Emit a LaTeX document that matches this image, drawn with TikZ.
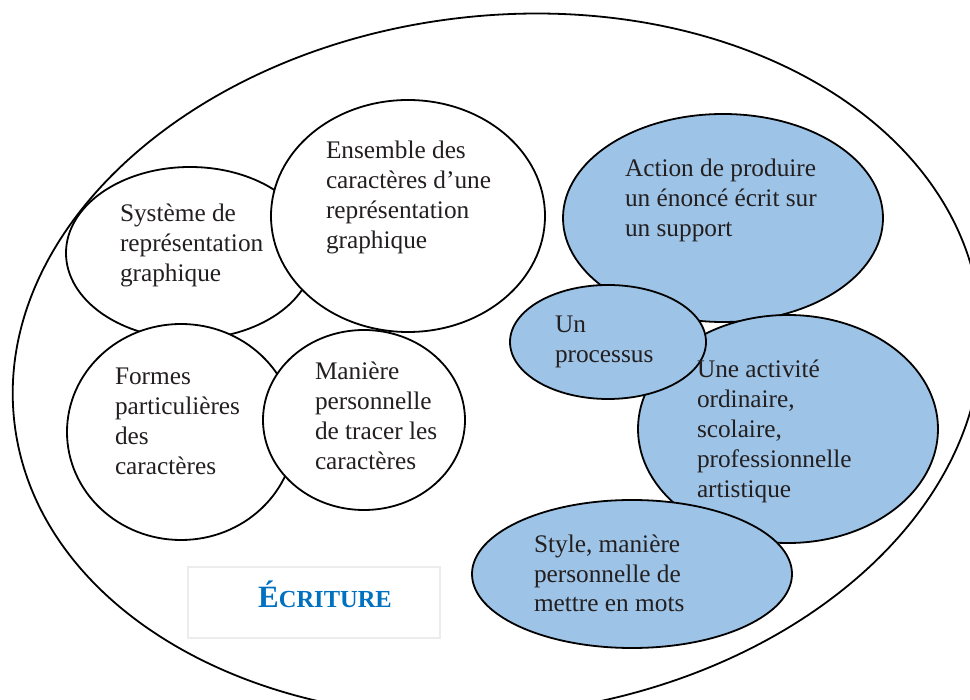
\documentclass[tikz,border=0pt]{standalone}
\usepackage{fontspec}
\setmainfont{Liberation Serif}
\usetikzlibrary{shapes.geometric}
\definecolor{fillblue}{RGB}{157,195,230}
\definecolor{titleblue}{RGB}{0,112,192}
\definecolor{boxgray}{RGB}{236,236,236}
\definecolor{txt}{RGB}{35,31,32}
\begin{document}
\begin{tikzpicture}[x=1pt,y=-1pt,
  blob/.style={ellipse, draw=black, line width=1.8pt, inner sep=0pt, outer sep=0pt},
  whiteblob/.style={blob, fill=white},
  blueblob/.style={blob, fill=fillblue},
  lbl/.style={anchor=base west, inner sep=0pt, outer sep=0pt, text=txt, font=\fontsize{25.3}{30}\selectfont}
]
\useasboundingbox (0,0) rectangle (970,700);
\fill[white] (0,0) rectangle (970,700);
% outer ellipse
\node[whiteblob, minimum width=972pt, minimum height=698pt, rotate=7] (outer) at (497,365) {};
% white circles
\node[whiteblob, minimum width=248pt, minimum height=172pt] (sys) at (190,253) {};
\node[whiteblob, minimum width=274pt, minimum height=232pt] (ens) at (408,216) {};
\node[whiteblob, minimum width=228pt, minimum height=216pt] (formes) at (181,432) {};
\node[whiteblob, minimum width=202pt, minimum height=180pt] (maniere) at (364,420) {};
% blue ellipses
\node[blueblob, minimum width=320pt, minimum height=208pt] (action) at (723,218) {};
\node[blueblob, minimum width=300pt, minimum height=228pt] (activite) at (788,429) {};
\node[blueblob, minimum width=196pt, minimum height=114pt] (processus) at (608,342) {};
\node[blueblob, minimum width=320pt, minimum height=148pt] (style) at (632,574) {};
% title box
\node[draw=boxgray, line width=1.5pt, fill=white, minimum width=252pt, minimum height=71pt, inner sep=0pt] (titlebox) at (314,602.5) {};
\node[anchor=base, inner sep=0pt, text=titleblue, font=\bfseries] (titletext) at (325,607)
  {\fontsize{31}{31}\selectfont É\fontsize{24.5}{24.5}\selectfont CRITURE};
% labels
\node[lbl] (tsys) at (120,222) {\begin{tabular}[t]{@{}l@{}}Système de\\ représentation\\ graphique\end{tabular}};
\node[lbl] (tens) at (326,159) {\begin{tabular}[t]{@{}l@{}}Ensemble des\\ caractères d’une\\ représentation\\ graphique\end{tabular}};
\node[lbl] (tformes) at (115,385) {\begin{tabular}[t]{@{}l@{}}Formes\\ particulières\\ des\\ caractères\end{tabular}};
\node[lbl] (tmaniere) at (315,380) {\begin{tabular}[t]{@{}l@{}}Manière\\ personnelle\\ de tracer les\\ caractères\end{tabular}};
\node[lbl] (taction) at (625,177) {\begin{tabular}[t]{@{}l@{}}Action de produire\\ un énoncé écrit sur\\ un support\end{tabular}};
\node[lbl] (tprocessus) at (555,333) {\begin{tabular}[t]{@{}l@{}}Un\\ processus\end{tabular}};
\node[lbl] (tactivite) at (697,378) {\begin{tabular}[t]{@{}l@{}}Une activité\\ ordinaire,\\ scolaire,\\ professionnelle\\ artistique\end{tabular}};
\node[lbl] (tstyle) at (534,552) {\begin{tabular}[t]{@{}l@{}}Style, manière\\ personnelle de\\ mettre en mots\end{tabular}};
\end{tikzpicture}
\end{document}
